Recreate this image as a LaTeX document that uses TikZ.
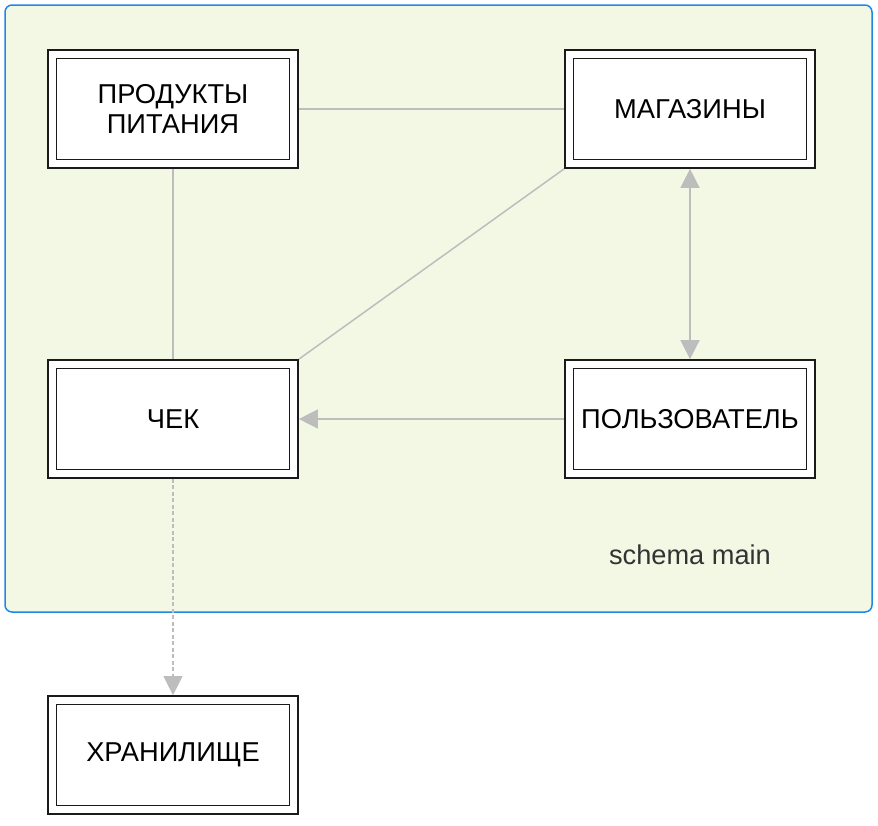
\documentclass[tikz,border=0pt]{standalone}
\usepackage{fontspec}
\setmainfont{Liberation Sans}
\usepackage{xcolor}
\usepackage{tikz}
\usetikzlibrary{positioning,arrows.meta,backgrounds}

\definecolor{clusterfill}{HTML}{F3F8E5}
\definecolor{clusterline}{HTML}{1E88E5}
\definecolor{relgray}{HTML}{BDBDBD}
\definecolor{boxline}{HTML}{1A1A1A}
\definecolor{labelgray}{HTML}{333333}

\begin{document}
\begin{tikzpicture}[x=1pt, y=-1pt,
    tbl/.style={draw=boxline, line width=1.8pt, double=white, double distance=6.7pt,
        fill=white, minimum width=241.5pt, minimum height=109.5pt, outer sep=5.1pt,
        inner sep=0pt, align=center, font=\fontsize{27.3}{30.7}\selectfont},
    rel/.style={draw=relgray, line width=1.5pt},
    tip/.style={-{Triangle[length=19pt,width=19pt]}}]
\useasboundingbox (0,0) rectangle (878,825);

% schema cluster
\draw[clusterline, fill=clusterfill, line width=1.5pt, rounded corners=7pt] (5,5) rectangle (872,612);
\node[labelgray, font=\fontsize{27.2}{30}\selectfont] (schemalbl) at (690,555) {schema main};

% Tables
\foreach \n/\x/\y/\t in {prod/173/109/{ПРОДУКТЫ\\ПИТАНИЯ}, shops/690/109/{МАГАЗИНЫ},
    check/173/419/{ЧЕК}, user/690/419/{ПОЛЬЗОВАТЕЛЬ}, store/173/755/{ХРАНИЛИЩЕ}} {
    \node[tbl] (\n) at (\x,\y) {\t};
}

% Relations
\draw[rel] (prod.east) -- (shops.west);
\draw[rel] (prod.south) -- (check.north);
\draw[rel] (shops.south west) -- (check.north east);
\draw[rel, {Triangle[length=19pt,width=19pt]}-{Triangle[length=19pt,width=19pt]}] (shops.south) -- (user.north);
\draw[rel, tip] (user.west) -- (check.east);
\draw[rel, tip, line width=1.2pt, dash pattern=on 4pt off 2.5pt] (check.south) -- (store.north);
\end{tikzpicture}
\end{document}
